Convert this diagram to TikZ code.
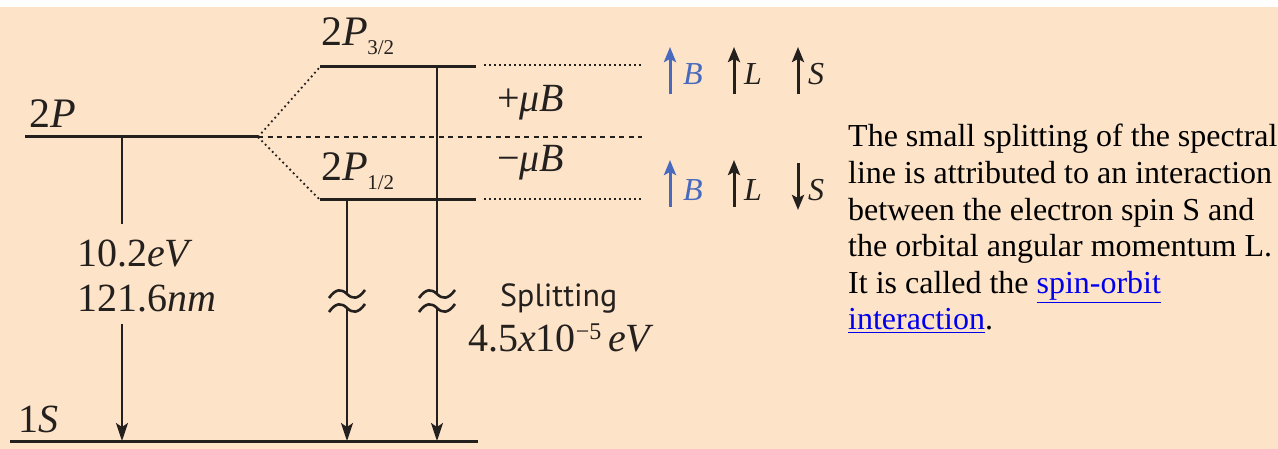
\documentclass[tikz,border=0pt]{standalone}
\usepackage{fontspec}
\setmainfont{Liberation Serif}
\newfontfamily\sansf{PT Sans}
\newfontfamily\serf{Liberation Serif}
\usetikzlibrary{arrows.meta}
\definecolor{peach}{RGB}{253,227,200}
\definecolor{bluearr}{RGB}{72,106,190}
\definecolor{linkblue}{RGB}{0,0,238}
\definecolor{ink}{RGB}{36,32,30}
\tikzset{
  levelline/.style={ink, line width=3pt},
  trans/.style={ink, line width=2pt},
  transarr/.style={trans, -{Stealth[length=18pt,width=12pt,inset=4pt]}},
  dotline/.style={ink, line width=1.8pt, dash pattern=on 1.8pt off 3.2pt},
  dashline/.style={ink, line width=1.8pt, dash pattern=on 5pt off 4.5pt},
  lbl/.style={inner sep=0pt, anchor=base west, text=ink, font=\serf\fontsize{40}{44}\selectfont},
  lvllbl/.style={inner sep=0pt, anchor=base west, text=ink, font=\serf\fontsize{42}{46}\selectfont},
  sublbl/.style={inner sep=0pt, anchor=base west, text=ink, font=\serf\fontsize{21}{23}\selectfont},
  vecarr/.style={line width=3pt, -{Stealth[length=15pt,width=12pt,inset=3pt]}},
  veclbl/.style={inner sep=0pt, anchor=base west, font=\serf\fontsize{32}{34}\selectfont\itshape},
  para/.style={inner sep=0pt, anchor=base west, text=black, font=\serf\fontsize{32}{36}\selectfont},
  tildepic/.pic={\draw[ink, line width=2.6pt] (-18,4) .. controls (-11,-6) and (-5,-5) .. (0,0) .. controls (5,5) and (11,6) .. (18,-4);}
}
\begin{document}
\begin{tikzpicture}[x=1pt,y=-1pt]
\useasboundingbox (0,0) rectangle (1278,449);
\fill[white] (0,0) rectangle (1278,449);
\fill[peach] (0,7) rectangle (1278,449);

% level coordinates
\coordinate (twoPL) at (25,137);
\coordinate (split) at (258,137);
\coordinate (p32L) at (320,67);
\coordinate (p32R) at (476,67);
\coordinate (p12L) at (320,200);
\coordinate (p12R) at (476,200);
\coordinate (oneSL) at (10,441);
\coordinate (oneSR) at (478,441);

% levels
\draw[levelline] (twoPL) -- (split);
\draw[levelline] (p32L) -- (p32R);
\draw[levelline] (p12L) -- (p12R);
\draw[levelline] (oneSL) -- (oneSR);

% splitting dotted lines
\draw[dotline] (split) -- (p32L);
\draw[dotline] (split) -- (p12L);
\coordinate (dashEnd) at (642,137);
\draw[dashline] (split) -- (dashEnd);
\coordinate (dot32a) at (484,65);
\coordinate (dot32b) at (642,65);
\coordinate (dot12a) at (484,199);
\coordinate (dot12b) at (642,199);
\draw[dotline] (dot32a) -- (dot32b);
\draw[dotline] (dot12a) -- (dot12b);

% labels of levels
\node[lvllbl] (l2P) at (29,128) {2\textit{P}};
\node[lvllbl] (l32) at (321,46) {2\textit{P}};
\node[sublbl] (s32) at (l32.base east) [xshift=-1pt, yshift=-9pt] {3/2};
\node[lvllbl] (l12) at (321,181) {2\textit{P}};
\node[sublbl] (s12) at (l12.base east) [xshift=-1pt, yshift=-9pt] {1/2};
\node[lbl] (l1S) at (18,432) {1\textit{S}};

% main transition 2P -> 1S
\coordinate (a1top) at (122,137);
\coordinate (a1gapTop) at (122,224);
\coordinate (a1gapBot) at (122,324);
\coordinate (a1end) at (122,441);
\draw[trans] (a1top) -- (a1gapTop);
\draw[transarr] (a1gapBot) -- (a1end);
\node[lbl] (e1) at (77,267) {10.2\textit{eV}};
\node[lbl] (w1) at (77,312) {121.6\textit{nm}};

% transitions from fine-structure levels with break marks
\coordinate (a2top) at (347,200);
\coordinate (a2b1) at (347,294);
\coordinate (a2b2) at (347,308);
\coordinate (a2end) at (347,441);
\draw[trans] (a2top) -- (a2b1);
\pic at (a2b1) {tildepic};
\pic at (a2b2) {tildepic};
\draw[transarr] (a2b2) -- (a2end);

\coordinate (a3top) at (437,67);
\coordinate (a3b1) at (437,294);
\coordinate (a3b2) at (437,308);
\coordinate (a3end) at (437,441);
\draw[trans] (a3top) -- (a3b1);
\pic at (a3b1) {tildepic};
\pic at (a3b2) {tildepic};
\draw[transarr] (a3b2) -- (a3end);

\node[inner sep=0pt, anchor=base west, text=ink, font=\sansf\fontsize{32}{34}\selectfont] (spl) at (500,306) {Splitting};
\node[lbl] (sval) at (468,352) {4.5\textit{x}10\raisebox{13pt}{\fontsize{24}{26}\selectfont −5}\,\textit{eV}};

% energy shift labels
\node[lbl] (plus) at (497,112) {+\textit{μB}};
\node[lbl] (minus) at (497,172) {−\textit{μB}};

% vector arrows, upper level
\coordinate (b1s) at (670,94);  \coordinate (b1e) at (670,47);
\coordinate (L1s) at (734,94);  \coordinate (L1e) at (734,47);
\coordinate (S1s) at (798,94);  \coordinate (S1e) at (798,47);
\draw[vecarr, bluearr] (b1s) -- (b1e);
\draw[vecarr, ink] (L1s) -- (L1e);
\draw[vecarr, ink] (S1s) -- (S1e);
\node[veclbl, text=bluearr] (B1) at (683,85) {B};
\node[veclbl, text=ink] (Lab1) at (744,85) {L};
\node[veclbl, text=ink] (Sab1) at (808,85) {S};

% vector arrows, lower level
\coordinate (b2s) at (670,207);  \coordinate (b2e) at (670,160);
\coordinate (L2s) at (734,207);  \coordinate (L2e) at (734,160);
\coordinate (S2s) at (798,163);  \coordinate (S2e) at (798,210);
\draw[vecarr, bluearr] (b2s) -- (b2e);
\draw[vecarr, ink] (L2s) -- (L2e);
\draw[vecarr, ink] (S2s) -- (S2e);
\node[veclbl, text=bluearr] (B2) at (683,201) {B};
\node[veclbl, text=ink] (Lab2) at (744,201) {L};
\node[veclbl, text=ink] (Sab2) at (808,201) {S};

% explanatory paragraph
\node[para] (t1) at (848,147) {The small splitting of the spectral};
\node[para] (t2) at (848,184) {line is attributed to an interaction};
\node[para] (t3) at (848,221) {between the electron spin S and};
\node[para] (t4) at (848,257) {the orbital angular momentum L.};
\node[para] (t5) at (848,294) {It is called the {\color{linkblue}\underline{spin-orbit}}};
\node[para] (t6) at (848,330) {{\color{linkblue}\underline{interaction}}.};
\end{tikzpicture}
\end{document}
